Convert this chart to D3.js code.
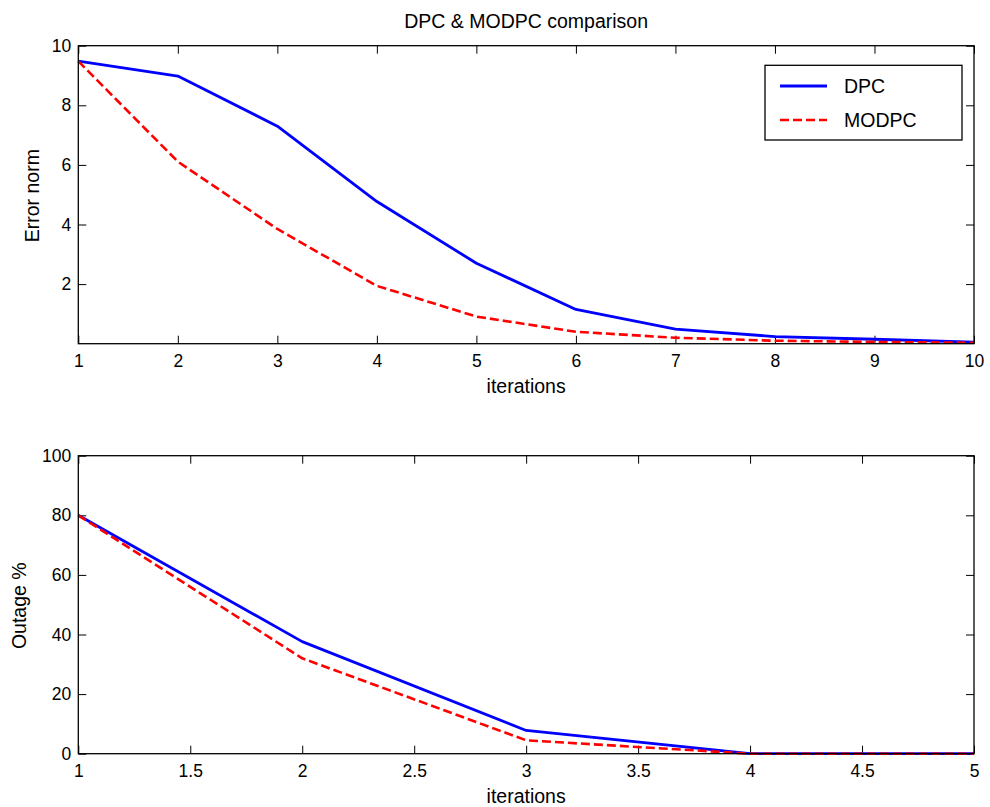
<!DOCTYPE html>
<html>
<head>
<meta charset="utf-8">
<script src="https://cdn.jsdelivr.net/npm/d3@7"></script>
<style>
  html, body { margin: 0; padding: 0; background: #fff; }
  svg { display: block; font-family: "Liberation Sans", Arial, Helvetica, sans-serif; }
</style>
</head>
<body>
<svg id="chart" width="990" height="807"></svg>
<script>
// ---- Data ----
const topIterations = [1, 2, 3, 4, 5, 6, 7, 8, 9, 10];
const topDPC   = [9.48, 8.98, 7.30, 4.77, 2.70, 1.15, 0.49, 0.24, 0.15, 0.05];
const topMODPC = [9.48, 6.11, 3.85, 1.94, 0.91, 0.40, 0.20, 0.10, 0.06, 0.03];
const topXTicks = [1, 2, 3, 4, 5, 6, 7, 8, 9, 10];
const topYTicks = [2, 4, 6, 8, 10];

const botIterations = [1, 2, 3, 4, 5];
const botDPC   = [80, 37.6, 7.8, 0, 0];
const botMODPC = [80, 32.0, 4.5, 0, 0];
const botXTicks = [1, 1.5, 2, 2.5, 3, 3.5, 4, 4.5, 5];
const botYTicks = [0, 20, 40, 60, 80, 100];

const seriesNames = ["DPC", "MODPC"];
const title = "DPC & MODPC comparison";

// ---- Layout ----
const svg = d3.select("#chart");
const left = 78.3, right = 974;
const tickFont = 17.5, labelFont = 19.5;

function panel(cfg) {
  const x = d3.scaleLinear().domain(cfg.xDomain).range([left, right]);
  const y = d3.scaleLinear().domain(cfg.yDomain).range([cfg.bottom, cfg.top]);
  const g = svg.append("g");

  const ax = g.append("g").attr("transform", `translate(0,${cfg.bottom})`)
    .call(d3.axisBottom(x).tickValues(cfg.xTicks).tickSizeInner(-8).tickSizeOuter(0).tickPadding(11)
      .tickFormat(d3.format("~g")));
  const ay = g.append("g").attr("transform", `translate(${left},0)`)
    .call(d3.axisLeft(y).tickValues(cfg.yTicks).tickSizeInner(-8).tickSizeOuter(0).tickPadding(7)
      .tickFormat(d3.format("~g")));
  const at = g.append("g").attr("transform", `translate(0,${cfg.top})`)
    .call(d3.axisTop(x).tickValues(cfg.xTicks).tickSizeInner(-8).tickSizeOuter(0).tickFormat(""));
  const ar = g.append("g").attr("transform", `translate(${right},0)`)
    .call(d3.axisRight(y).tickValues(cfg.yTicks).tickSizeInner(-8).tickSizeOuter(0).tickFormat(""));
  [ax, ay, at, ar].forEach(a => {
    a.select(".domain").remove();
    a.selectAll("line").attr("stroke", "#000").attr("stroke-width", 1);
    a.selectAll("text").attr("fill", "#000").style("font-size", tickFont + "px")
      .style("font-family", '"Liberation Sans", Arial, sans-serif');
  });

  const line = d3.line().x((d, i) => x(cfg.xs[i])).y(d => y(d));
  g.append("path").datum(cfg.dpc).attr("d", line)
    .attr("fill", "none").attr("stroke", "#0000ff").attr("stroke-width", 2.8).attr("stroke-linejoin", "round");
  g.append("path").datum(cfg.modpc).attr("d", line)
    .attr("fill", "none").attr("stroke", "#ff0000").attr("stroke-width", 2.6)
    .attr("stroke-dasharray", "9,4").attr("stroke-linejoin", "round");

  g.append("rect").attr("x", left).attr("y", cfg.top)
    .attr("width", right - left).attr("height", cfg.bottom - cfg.top)
    .attr("fill", "none").attr("stroke", "#000").attr("stroke-width", 1.3);

  g.append("text").attr("x", (left + right) / 2).attr("y", cfg.bottom + 49)
    .attr("text-anchor", "middle").style("font-size", labelFont + "px").text("iterations");
  g.append("text")
    .attr("transform", `translate(${cfg.ylabelX},${(cfg.top + cfg.bottom) / 2 + 1}) rotate(-90)`)
    .attr("text-anchor", "middle").style("font-size", labelFont + "px").text(cfg.ylabel);
  return { g, x, y };
}

panel({
  xDomain: [1, 10], yDomain: [0, 10], top: 45.7, bottom: 343.7,
  xTicks: topXTicks, yTicks: topYTicks, xs: topIterations,
  dpc: topDPC, modpc: topMODPC, ylabel: "Error norm", ylabelX: 39
});
panel({
  xDomain: [1, 5], yDomain: [0, 100], top: 455.7, bottom: 753.7,
  xTicks: botXTicks, yTicks: botYTicks, xs: botIterations,
  dpc: botDPC, modpc: botMODPC, ylabel: "Outage %", ylabelX: 26
});

svg.append("text").attr("x", (left + right) / 2).attr("y", 27.5)
  .attr("text-anchor", "middle").style("font-size", "19.5px").text(title);

const lg = svg.append("g");
lg.append("rect").attr("x", 765).attr("y", 65.3).attr("width", 197).attr("height", 74.7)
  .attr("fill", "#fff").attr("stroke", "#000").attr("stroke-width", 1.3);
const legendRows = [
  { name: seriesNames[0], color: "#0000ff", dash: null, y: 86 },
  { name: seriesNames[1], color: "#ff0000", dash: "9,4", y: 120 }
];
legendRows.forEach(r => {
  lg.append("line").attr("x1", 780).attr("x2", 827).attr("y1", r.y).attr("y2", r.y)
    .attr("stroke", r.color).attr("stroke-width", r.dash ? 2.6 : 2.8)
    .attr("stroke-dasharray", r.dash);
  lg.append("text").attr("x", 844).attr("y", r.y + 7).style("font-size", "19.5px").text(r.name);
});
</script>
</body>
</html>
